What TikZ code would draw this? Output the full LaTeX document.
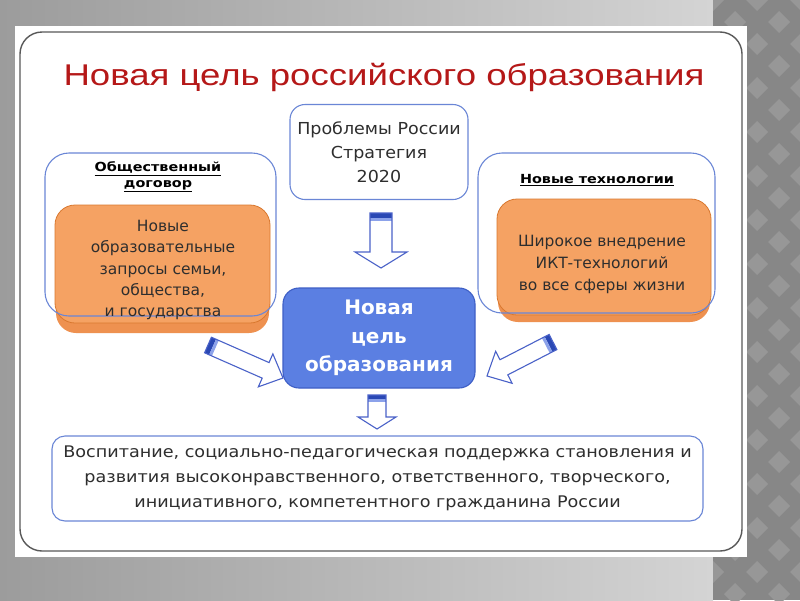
\documentclass[tikz,border=0pt]{standalone}
\usepackage{fontspec}
\usepackage{graphicx}
\setmainfont{DejaVu Sans}
\newfontfamily\titlefont{Liberation Sans}
\usetikzlibrary{calc}

\definecolor{bluebord}{HTML}{6A86D6}
\definecolor{orangefill}{HTML}{F5A263}
\definecolor{orangedark}{HTML}{EE9150}
\definecolor{orangeline}{HTML}{D9782F}
\definecolor{centerblue}{HTML}{5B7FE2}
\definecolor{centerbord}{HTML}{3E5FC6}
\definecolor{titlered}{HTML}{B51818}
\definecolor{arrowblue}{HTML}{4A62C8}
\definecolor{capblue}{HTML}{2A48B4}
\definecolor{caplight}{HTML}{8CA2EA}
\definecolor{textgray}{HTML}{2E2E2E}
\definecolor{bgleft}{HTML}{9C9C9C}
\definecolor{bgright}{HTML}{D4D4D4}
\definecolor{stripdark}{HTML}{878787}
\definecolor{striplight}{HTML}{979797}

\newcommand\sx[2]{\scalebox{#1}[1]{#2}}

% block arrow: #1 tail, #2 tip, #3 half shaft width, #4 half head width, #5 head length, #6 cap length
\newcommand\blkarrow[6]{%
  \coordinate (bac) at ($(#2)!#5!(#1)$);
  \coordinate (bak) at ($(#1)!#6!(#2)$);
  \coordinate (bal) at ($(#1)!#6+3pt!(#2)$);
  \fill[white] ($(#1)!#3!90:(#2)$) -- ($(bac)!#3!90:(#2)$) -- ($(bac)!#4!90:(#2)$) -- (#2)
     -- ($(bac)!#4!-90:(#2)$) -- ($(bac)!#3!-90:(#2)$) -- ($(#1)!#3!-90:(#2)$) -- cycle;
  \fill[capblue] ($(#1)!#3!90:(#2)$) -- ($(bak)!#3!90:(#2)$) -- ($(bak)!#3!-90:(#2)$) -- ($(#1)!#3!-90:(#2)$) -- cycle;
  \fill[caplight] ($(bak)!#3!90:(#2)$) -- ($(bal)!#3!90:(#2)$) -- ($(bal)!#3!-90:(#2)$) -- ($(bak)!#3!-90:(#2)$) -- cycle;
  \draw[arrowline] ($(#1)!#3!90:(#2)$) -- ($(bac)!#3!90:(#2)$) -- ($(bac)!#4!90:(#2)$) -- (#2)
     -- ($(bac)!#4!-90:(#2)$) -- ($(bac)!#3!-90:(#2)$) -- ($(#1)!#3!-90:(#2)$) -- cycle;
}

\begin{document}
\begin{tikzpicture}[x=1pt,y=-1pt,
  outerbox/.style={draw=bluebord, line width=1.1pt, rounded corners=24pt},
  orangebox/.style={fill=orangefill, draw=orangeline, line width=0.8pt, rounded corners=20pt},
  orangeshadow/.style={fill=orangedark, rounded corners=20pt},
  plainbox/.style={draw=bluebord, fill=white, line width=1.1pt, align=center, text=textgray},
  boxtext/.style={align=center, text=textgray},
  headtext/.style={align=center, text=black, font=\bfseries\fontsize{12.5}{16}\selectfont},
  arrowline/.style={draw=arrowblue, line width=1.1pt, line join=miter}
]
\useasboundingbox (0,0) rectangle (800,600);
% background
\shade[left color=bgleft, right color=bgright] (0,0) rectangle (713,600);
\fill[stripdark] (713,0) rectangle (800,600);
\begin{scope}
  \clip (713,0) rectangle (800,600);
  \foreach \i in {0,...,5}{
    \foreach \j in {0,...,28}{
      \pgfmathtruncatemacro\parity{mod(\i+\j,2)}
      \ifnum\parity=0
        \fill[striplight] ({713+\i*22},{\j*22-11}) -- ++(11,11) -- ++(-11,11) -- ++(-11,-11) -- cycle;
      \fi
    }
  }
\end{scope}
% white slide panel
\fill[white] (15,26) rectangle (747,557);
\draw[black!65, line width=1.4pt, rounded corners=22pt] (20,32) rectangle (742,551);

% title
\node[font=\titlefont\fontsize{30}{32}\selectfont, text=titlered] (title) at (384,77)
  {\sx{1.22}{Новая цель российского образования}};

% top box
\node[plainbox, rounded corners=15pt, minimum width=178pt, minimum height=95pt,
  font=\fontsize{16.5}{24}\selectfont] (prob) at (379,152)
  {\sx{1.06}{Проблемы России}\\\sx{1.06}{Стратегия}\\\sx{1.06}{2020}};

% left group
\fill[orangeshadow] (56,212) rectangle (269,333);
\filldraw[orangebox] (55,205) rectangle (270,323);
\draw[outerbox] (45,153) rectangle (276,316);
\node[headtext] (lefthead) at (158,177) {\sx{1.15}{\underline{Общественный}}\\\sx{1.15}{\underline{договор}}};
\node[boxtext, font=\fontsize{15.5}{21.3}\selectfont] (lefttext) at (163,270)
  {Новые\\образовательные\\запросы семьи,\\общества,\\и государства};

% right group
\fill[orangeshadow] (498,206) rectangle (710,322);
\filldraw[orangebox] (497,199) rectangle (711,315);
\draw[outerbox] (478,153) rectangle (715,313);
\node[headtext] (righthead) at (597,180) {\sx{1.15}{\underline{Новые технологии}}};
\node[boxtext, font=\fontsize{15.5}{22}\selectfont] (righttext) at (602,264)
  {Широкое внедрение\\ИКТ-технологий\\во все сферы жизни};

% center box
\node[draw=centerbord, fill=centerblue, line width=1.1pt, rounded corners=16pt,
  minimum width=192pt, minimum height=100pt, align=center, text=white,
  font=\bfseries\fontsize{20}{28.5}\selectfont] (goal) at (379,338)
  {Новая\\цель\\образования};

% bottom box
\node[plainbox, rounded corners=13pt, minimum width=651pt, minimum height=85pt,
  font=\fontsize{16}{25}\selectfont] (result) at (377.5,478.5)
  {\sx{1.1}{Воспитание, социально-педагогическая поддержка становления и}\\
   \sx{1.1}{развития высоконравственного, ответственного, творческого,}\\
   \sx{1.1}{инициативного, компетентного гражданина России}};

% arrows
\coordinate (a1t) at (381,213);
\coordinate (a1h) at (381,268);
\blkarrow{a1t}{a1h}{11pt}{26pt}{16pt}{5pt}
\coordinate (a2t) at (377,395);
\coordinate (a2h) at (377,429);
\blkarrow{a2t}{a2h}{9pt}{19pt}{12pt}{4pt}
\coordinate (a3t) at (208,345);
\coordinate (a3h) at (283,378);
\blkarrow{a3t}{a3h}{8.5pt}{18pt}{19pt}{5pt}
\coordinate (a4t) at (553,342);
\coordinate (a4h) at (487,376);
\blkarrow{a4t}{a4h}{8.5pt}{18pt}{19pt}{5pt}
\end{tikzpicture}
\end{document}
